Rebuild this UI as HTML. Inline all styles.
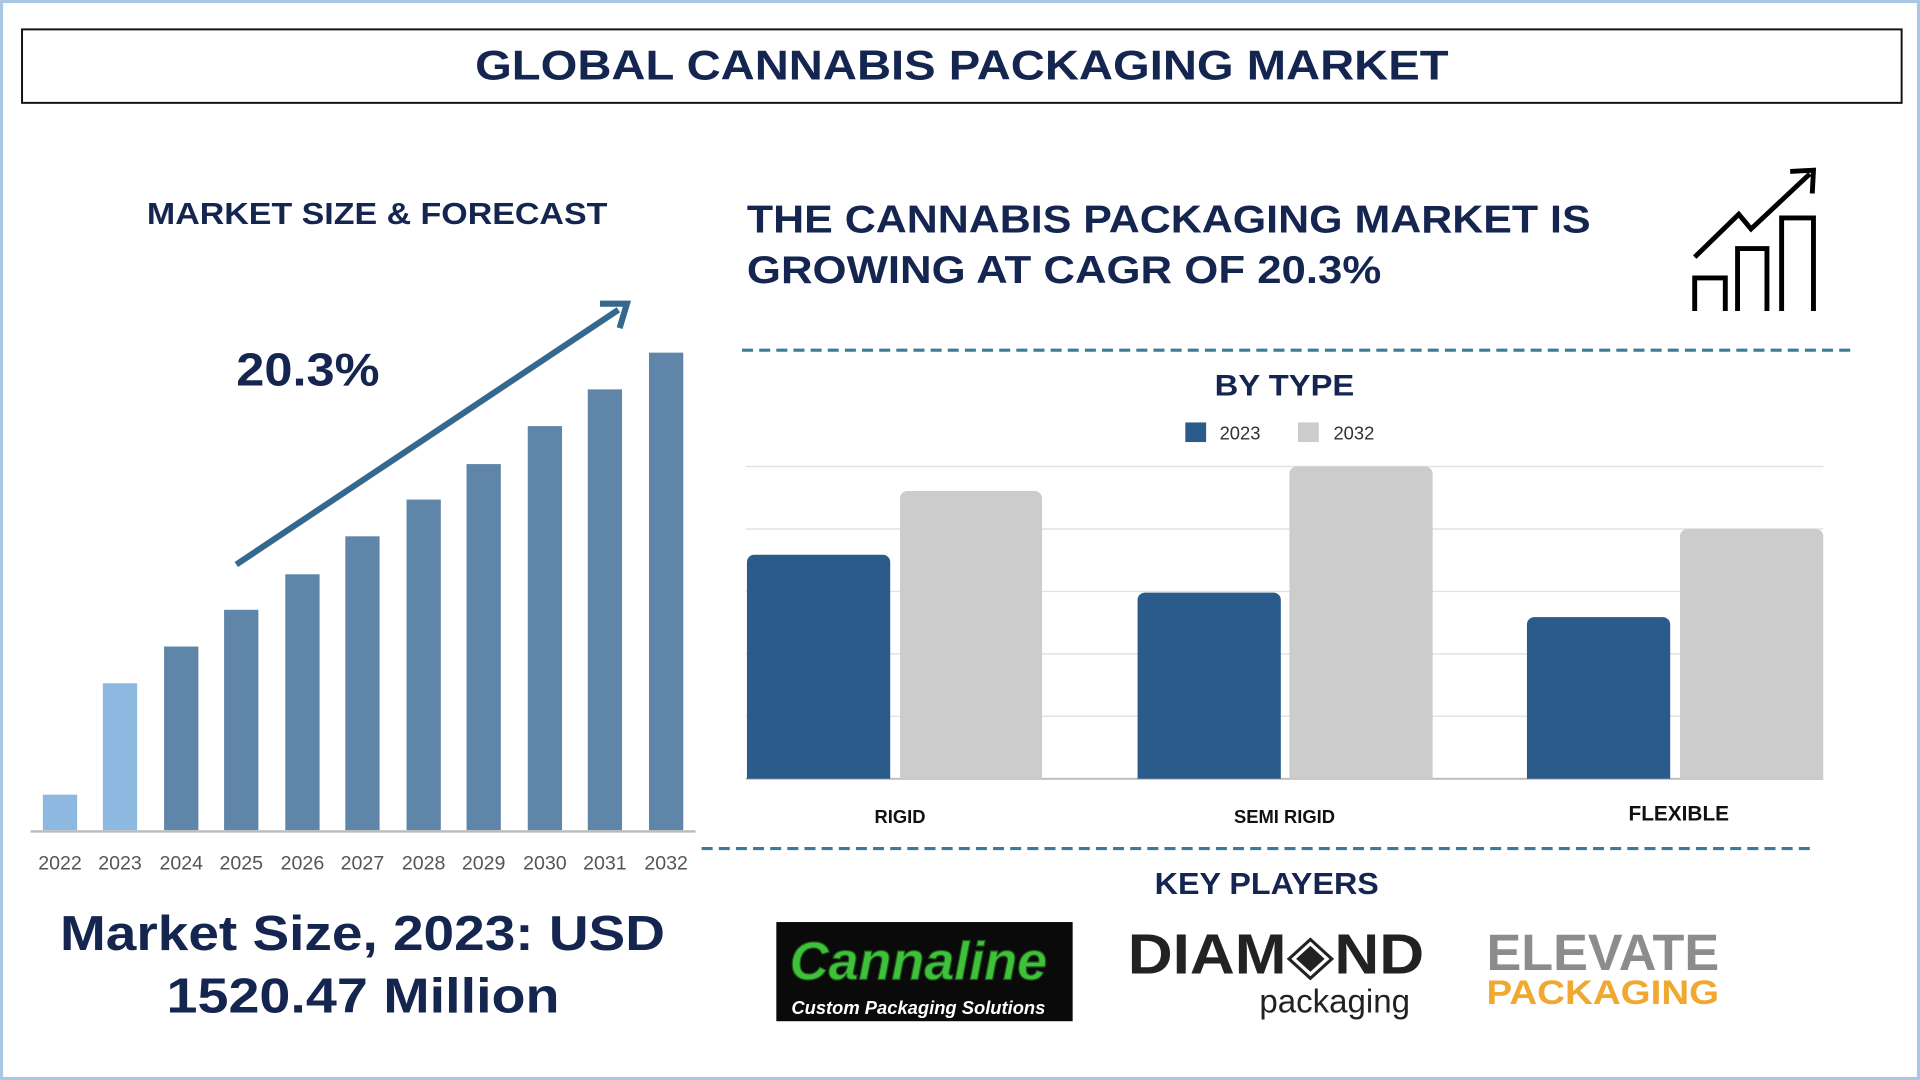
<!DOCTYPE html>
<html><head><meta charset="utf-8"><style>
html,body{margin:0;padding:0;background:#fff;}
svg{display:block}
text{font-family:"Liberation Sans","DejaVu Sans",sans-serif;}
</style></head><body>
<svg width="1920" height="1080" viewBox="0 0 1568 882" xmlns="http://www.w3.org/2000/svg">
<rect x="1" y="1" width="1566" height="880" fill="#fff" stroke="#a9c6e4" stroke-width="3"/>
<rect x="18" y="24" width="1535" height="60" fill="#fff" stroke="#111" stroke-width="1.6"/>
<text x="388" y="65" font-size="34" font-weight="bold" fill="#14254f" textLength="795" lengthAdjust="spacingAndGlyphs">GLOBAL CANNABIS PACKAGING MARKET</text>

<text x="120" y="183" font-size="25" font-weight="bold" fill="#14254f" textLength="376" lengthAdjust="spacingAndGlyphs">MARKET SIZE &amp; FORECAST</text>
<text x="193" y="315" font-size="38" font-weight="bold" fill="#14254f" textLength="117" lengthAdjust="spacingAndGlyphs">20.3%</text>
<g>
<rect x="35" y="649" width="28" height="29" fill="#8db8e0"/>
<rect x="84" y="558" width="28" height="120" fill="#8db8e0"/>
<rect x="134" y="528" width="28" height="150" fill="#5f85a8"/>
<rect x="183" y="498" width="28" height="180" fill="#5f85a8"/>
<rect x="233" y="469" width="28" height="209" fill="#5f85a8"/>
<rect x="282" y="438" width="28" height="240" fill="#5f85a8"/>
<rect x="332" y="408" width="28" height="270" fill="#5f85a8"/>
<rect x="381" y="379" width="28" height="299" fill="#5f85a8"/>
<rect x="431" y="348" width="28" height="330" fill="#5f85a8"/>
<rect x="480" y="318" width="28" height="360" fill="#5f85a8"/>
<rect x="530" y="288" width="28" height="390" fill="#5f85a8"/>
</g>
<line x1="25" y1="679" x2="568" y2="679" stroke="#bbb" stroke-width="2"/>
<g font-size="16" fill="#555" text-anchor="middle">
<text x="49" y="710">2022</text><text x="98" y="710">2023</text><text x="148" y="710">2024</text><text x="197" y="710">2025</text><text x="247" y="710">2026</text><text x="296" y="710">2027</text><text x="346" y="710">2028</text><text x="395" y="710">2029</text><text x="445" y="710">2030</text><text x="494" y="710">2031</text><text x="544" y="710">2032</text>
</g>
<line x1="193" y1="461" x2="505" y2="253" stroke="#34688f" stroke-width="5"/>
<polyline points="490,248 512,248 506,268" fill="none" stroke="#34688f" stroke-width="5"/>
<text x="49" y="776" font-size="40" font-weight="bold" fill="#14254f" textLength="494" lengthAdjust="spacingAndGlyphs">Market Size, 2023: USD</text>
<text x="136" y="827" font-size="40" font-weight="bold" fill="#14254f" textLength="321" lengthAdjust="spacingAndGlyphs">1520.47 Million</text>

<text x="610" y="190" font-size="32" font-weight="bold" fill="#14254f" textLength="689" lengthAdjust="spacingAndGlyphs">THE CANNABIS PACKAGING MARKET IS</text>
<text x="610" y="231" font-size="32" font-weight="bold" fill="#14254f" textLength="518" lengthAdjust="spacingAndGlyphs">GROWING AT CAGR OF 20.3%</text>
<g fill="none" stroke="#000" stroke-width="4">
<polyline points="1384,254 1384,227 1409,227 1409,254"/>
<polyline points="1419,254 1419,203 1443,203 1443,254"/>
<polyline points="1455,254 1455,178 1481,178 1481,254"/>
<polyline points="1384,210 1420,175 1430,187 1478,142"/>
<polyline points="1462,140 1481,139 1480,158"/>
</g>
<line x1="606" y1="286" x2="1512" y2="286" stroke="#3f7a9a" stroke-width="2.5" stroke-dasharray="9,5"/>

<text x="992" y="323" font-size="24" font-weight="bold" fill="#14254f" textLength="114" lengthAdjust="spacingAndGlyphs">BY TYPE</text>
<rect x="968" y="345" width="17" height="16" fill="#2a5b8a"/>
<text x="996" y="359" font-size="15" fill="#333">2023</text>
<rect x="1060" y="345" width="17" height="16" fill="#cccccc"/>
<text x="1089" y="359" font-size="15" fill="#333">2032</text>
<g stroke="#e2e2e2" stroke-width="1.2">
<line x1="609" y1="381" x2="1489" y2="381"/><line x1="609" y1="432" x2="1489" y2="432"/><line x1="609" y1="483" x2="1489" y2="483"/><line x1="609" y1="534" x2="1489" y2="534"/><line x1="609" y1="585" x2="1489" y2="585"/>
</g>
<line x1="609" y1="636" x2="1489" y2="636" stroke="#bbb" stroke-width="1.5"/>
<path d="M610,636V459a6,6 0 0 1 6,-6H721a6,6 0 0 1 6,6V636Z" fill="#2a5b8a"/>
<path d="M735,636V407a6,6 0 0 1 6,-6H845a6,6 0 0 1 6,6V636Z" fill="#cccccc"/>
<path d="M929,636V490a6,6 0 0 1 6,-6H1040a6,6 0 0 1 6,6V636Z" fill="#2a5b8a"/>
<path d="M1053,636V387a6,6 0 0 1 6,-6H1164a6,6 0 0 1 6,6V636Z" fill="#cccccc"/>
<path d="M1247,636V510a6,6 0 0 1 6,-6H1358a6,6 0 0 1 6,6V636Z" fill="#2a5b8a"/>
<path d="M1372,636V438a6,6 0 0 1 6,-6H1483a6,6 0 0 1 6,6V636Z" fill="#cccccc"/>
<g font-size="15" font-weight="bold" fill="#111" text-anchor="middle">
<text x="735" y="672">RIGID</text><text x="1049" y="672">SEMI RIGID</text><text x="1371" y="670" font-size="17">FLEXIBLE</text>
</g>
<line x1="573" y1="693" x2="1480" y2="693" stroke="#3f7a9a" stroke-width="2.5" stroke-dasharray="9,5"/>
<text x="943" y="730" font-size="25" font-weight="bold" fill="#14254f" textLength="183" lengthAdjust="spacingAndGlyphs">KEY PLAYERS</text>

<rect x="634" y="753" width="242" height="81" fill="#0a0a0a"/>
<text x="750" y="800" text-anchor="middle" font-size="44" font-weight="bold" font-style="italic" fill="#3fc23a" stroke="#1e5c1b" stroke-width="1">Cannaline</text>
<text x="750" y="828" text-anchor="middle" font-size="15" font-weight="bold" font-style="italic" fill="#fff">Custom Packaging Solutions</text>
<text x="921" y="795" font-size="46" font-weight="bold" fill="#222" textLength="242" lengthAdjust="spacingAndGlyphs">DIAM◈ND</text>
<text x="1090" y="827" text-anchor="middle" font-size="27" fill="#222">packaging</text>
<text x="1214" y="792" font-size="42" font-weight="bold" fill="#8c8c8c" textLength="190" lengthAdjust="spacingAndGlyphs">ELEVATE</text>
<text x="1214" y="820" font-size="28" font-weight="bold" fill="#f0a830" textLength="190" lengthAdjust="spacingAndGlyphs">PACKAGING</text>
</svg>
</body></html>
